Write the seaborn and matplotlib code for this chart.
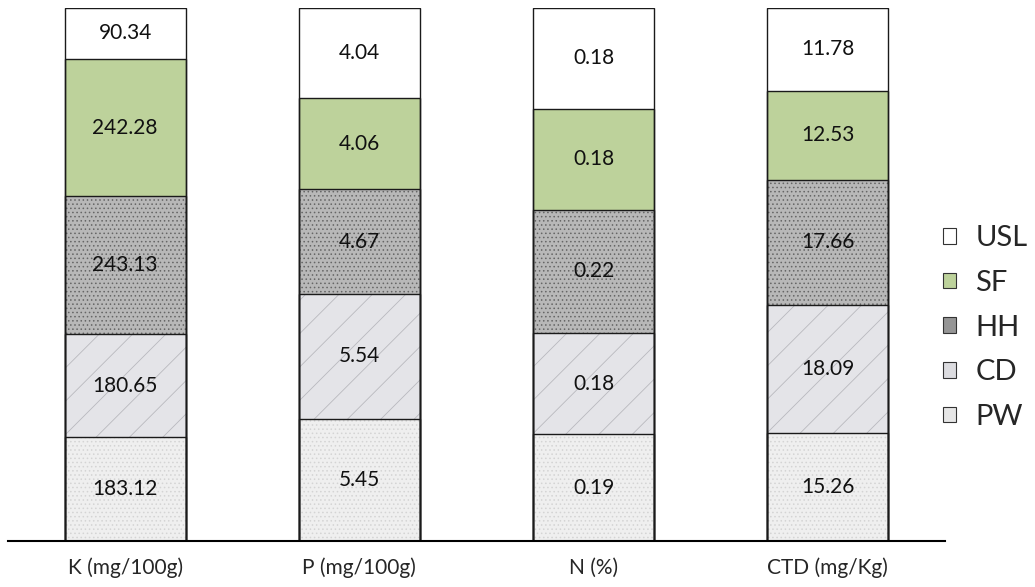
import numpy as np
import pandas as pd
import matplotlib.pyplot as plt
import seaborn as sns
from matplotlib.patches import Patch

categories = ["K (mg/100g)", "P (mg/100g)", "N (%)", "CTD (mg/Kg)"]
components = ["PW", "CD", "HH", "SF", "USL"]  # bottom -> top
pw = [183.12, 5.45, 0.19, 15.26]
cd = [180.65, 5.54, 0.18, 18.09]
hh = [243.13, 4.67, 0.22, 17.66]
sf = [242.28, 4.06, 0.18, 12.53]
usl = [90.34, 4.04, 0.18, 11.78]

face = {"PW": "#efefef", "CD": "#e4e4e8", "HH": "#b8b8b8", "SF": "#bdd29b", "USL": "#ffffff"}
hatch = {"PW": "....", "CD": "/", "HH": "....", "SF": None, "USL": None}
hatch_col = {"PW": "#d4d4d4", "CD": "#b8b8be", "HH": "#666666", "SF": "#bdd29b", "USL": "#ffffff"}
legend_face = {"PW": "#e6e6e6", "CD": "#dcdce0", "HH": "#959595", "SF": "#bdd29b", "USL": "#ffffff"}

values = pd.DataFrame([pw, cd, hh, sf, usl], index=components, columns=categories)
shares = values / values.sum()
cum = shares.cumsum()

sns.set_style("white")
plt.rcParams["font.family"] = ["Lato", "DejaVu Sans"]
plt.rcParams["hatch.linewidth"] = 0.6

fig = plt.figure(figsize=(10.35, 5.87), dpi=100)
ax = fig.add_axes([0.0077, 0.0784, 0.9053, 0.9087])

# draw cumulative bars from the top layer down so each covers the one above
for comp in components[::-1]:
    df = pd.DataFrame({"cat": categories, "val": cum.loc[comp].values})
    sns.barplot(data=df, x="cat", y="val", color=face[comp], width=0.517,
                saturation=1, ax=ax, linewidth=0)
    for p in ax.containers[-1]:
        p.set_facecolor(face[comp])
        if hatch[comp]:
            p.set_hatch(hatch[comp])
        p.set_edgecolor(hatch_col[comp])
        p.set_linewidth(0)

# outlines
for comp in components[::-1]:
    df = pd.DataFrame({"cat": categories, "val": cum.loc[comp].values})
    sns.barplot(data=df, x="cat", y="val", fill=False, color="#1a1a1a",
                width=0.517, linewidth=1, ax=ax)

# value labels
for comp in components:
    for i, cat in enumerate(categories):
        mid = cum.loc[comp, cat] - shares.loc[comp, cat] / 2
        ax.text(i, mid, f"{values.loc[comp, cat]:.2f}", ha="center",
                va="center", fontsize=15, color="#111111")

ax.set_xlim(-0.5, 3.5)
ax.set_ylim(0, 1)
ax.set_xlabel("")
ax.set_ylabel("")
ax.set_yticks([])
sns.despine(ax=ax, left=True)
ax.spines["bottom"].set_linewidth(1.5)
ax.spines["bottom"].set_color("black")
ax.tick_params(axis="x", length=0, pad=12, labelsize=15)

handles = [Patch(facecolor=legend_face[c], edgecolor="#333333", linewidth=0.8)
           for c in components[::-1]]
fig.legend(handles, components[::-1], loc="center left",
           bbox_to_anchor=(0.9, 0.442), frameon=False, fontsize=21,
           handlelength=0.45, handleheight=0.45, handletextpad=0.65,
           labelspacing=0.64, borderaxespad=0)

fig.savefig("out.png", dpi=100)
